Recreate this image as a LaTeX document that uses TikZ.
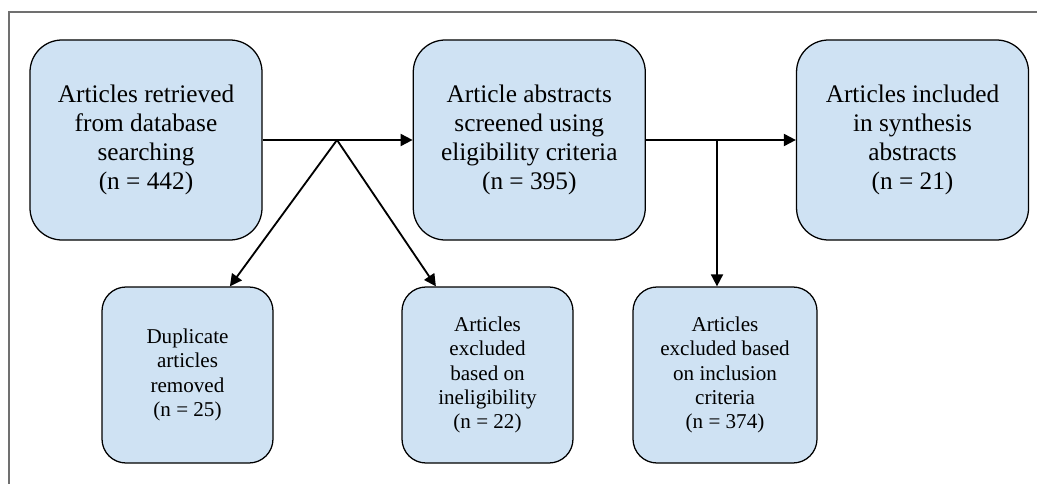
\documentclass[tikz,border=0pt]{standalone}
\usepackage{fontspec}
\setmainfont{Liberation Serif}
\usetikzlibrary{arrows.meta,positioning}
\definecolor{boxblue}{HTML}{CFE2F3}
\definecolor{framegray}{HTML}{707070}

\begin{document}
\begin{tikzpicture}[
    node distance=3.75cm,
    bigbox/.style={draw,fill=boxblue,line width=0.9pt,rounded corners=8mm,
      minimum width=5.8cm,minimum height=5cm,align=center,
      font=\fontsize{18}{20.6}\selectfont},
    smallbox/.style={draw,fill=boxblue,line width=0.9pt,rounded corners=6mm,
      minimum width=4.275cm,minimum height=4.4cm,align=center,
      font=\fontsize{15}{17.2}\selectfont},
    link/.style={->,line width=1.3pt},
    >={Triangle[length=3mm,width=3mm]}]
  \useasboundingbox (0,0) rectangle (25.925,-12.1);
  \draw[framegray,line width=0.8pt] (0.225,-12.1) -- (0.225,-0.3) -- (25.925,-0.3);
  \node[bigbox] (retrieved) at (3.65,-3.5) {Articles retrieved\\from database\\searching\\(n = 442)};
  \node[bigbox,right=of retrieved] (screened) {Article abstracts\\screened using\\eligibility criteria\\(n = 395)};
  \node[bigbox,right=of screened] (included) {Articles included\\in synthesis\\abstracts\\(n = 21)};
  \node[smallbox] (duplicate) at (4.6875,-9.375) {Duplicate\\articles\\removed\\(n = 25)};
  \node[smallbox] (ineligible) at (12.1875,-9.375) {Articles\\excluded\\based on\\ineligibility\\(n = 22)};
  \node[smallbox,minimum width=4.6cm] (inclusion) at (18.125,-9.375) {Articles\\excluded based\\on inclusion\\criteria\\(n = 374)};
  \coordinate (split1) at (8.425,-3.5);
  \coordinate (split2) at (17.925,-3.5);
  \draw[link] (retrieved) -- (screened);
  \draw[link] (screened) -- (included);
  \draw[link] (split1) -- ([xshift=1.06cm]duplicate.north);
  \draw[link] (split1) -- ([xshift=-1.29cm]ineligible.north);
  \draw[link] (split2) -- (split2 |- inclusion.north);
\end{tikzpicture}
\end{document}
